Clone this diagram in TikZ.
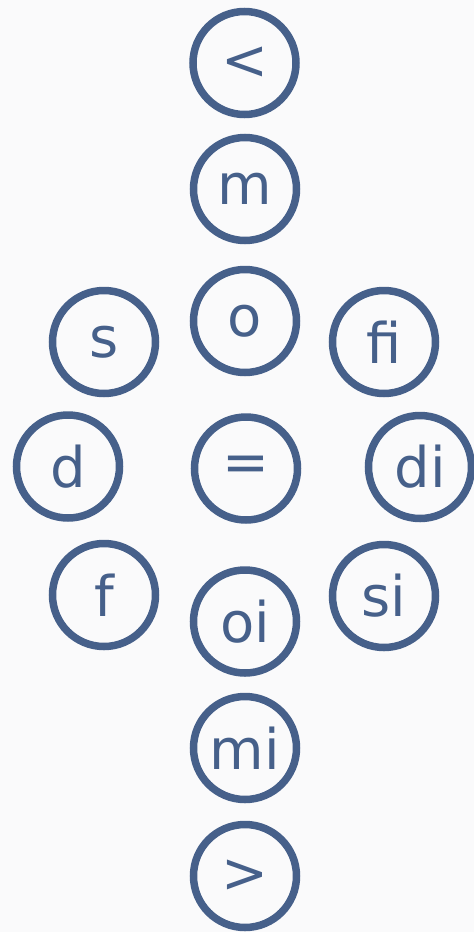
\documentclass[tikz,border=0pt]{standalone}
\usepackage{fontspec}
\setmainfont{DejaVu Sans}
\definecolor{ink}{RGB}{70,96,138}
\definecolor{bg}{RGB}{250,250,251}
\begin{document}
\begin{tikzpicture}[x=1pt,y=-1pt,
  rel/.style={circle,draw=ink,line width=7.5pt,minimum size=103pt,inner sep=0pt,
    text=ink,font=\fontsize{56}{60}\selectfont}]
\fill[bg] (0,0) rectangle (474,932);
\useasboundingbox (0,0) rectangle (474,932);
\node[rel] (lt) at (244.5,63) {<};
\node[rel] (m) at (245,189) {m};
\node[rel] (o) at (245,321) {o};
\node[rel] (s) at (104,342) {s};
\node[rel] (fi) at (384,342) {ﬁ};
\node[rel] (d) at (68,466.5) {d};
\node[rel] (eq) at (246,468.5) {=};
\node[rel] (di) at (420,467) {di};
\node[rel] (f) at (104,595) {f};
\node[rel] (si) at (384,596) {si};
\node[rel] (oi) at (245,621.5) {oi};
\node[rel] (mi) at (245,748) {mi};
\node[rel] (gt) at (245,876) {>};
\end{tikzpicture}
\end{document}
